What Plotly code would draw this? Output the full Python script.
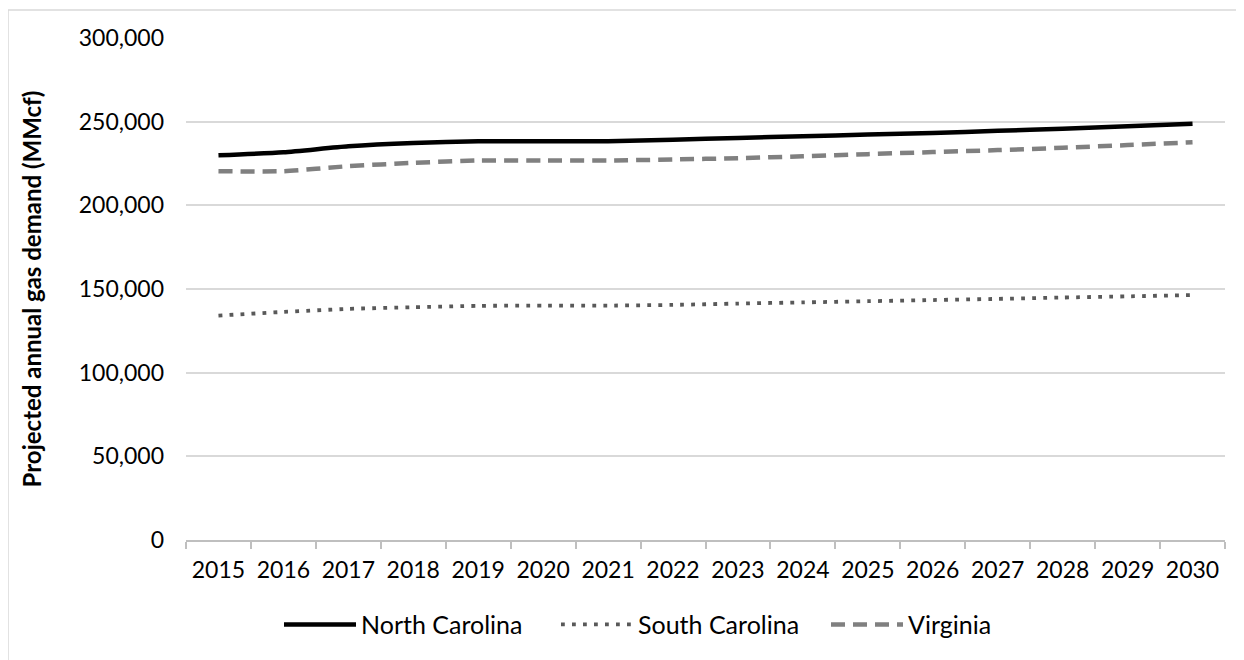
import plotly.graph_objects as go

years = [str(y) for y in range(2015, 2031)]
north_carolina = [229900, 231700, 235300, 237300, 238300, 238300, 238300, 239200,
                  240300, 241300, 242300, 243300, 244500, 245800, 247200, 248800]
south_carolina = [134100, 136300, 138100, 139100, 139900, 140100, 140100, 140500,
                  141300, 142000, 142700, 143400, 144100, 144900, 145600, 146400]
virginia = [220400, 220400, 223400, 225400, 226800, 226800, 226800, 227400,
            228200, 229300, 230600, 231800, 233000, 234400, 236000, 237700]
y_ticks = [0, 50000, 100000, 150000, 200000, 250000, 300000]

FONT = "Lato, 'Open Sans', sans-serif"

# page body has an 8px margin; work in figure coordinates (page - 8)
OFF = 8
W, H = 1244 - OFF, 660 - OFF
L, R, T, B = 186 - OFF, 1225 - OFF, 38 - OFF, 542 - OFF
pw, ph = R - L, B - T


def px(xp):
    return (xp - OFF - L) / pw


def py(yp):
    return (B - (yp - OFF)) / ph


fig = go.Figure()
fig.add_trace(go.Scatter(x=years, y=north_carolina, name="North Carolina", mode="lines",
                         legend="legend",
                         line=dict(color="#000000", width=4.5, shape="spline", smoothing=0.6)))
fig.add_trace(go.Scatter(x=years, y=south_carolina, name="South Carolina", mode="lines",
                         legend="legend2",
                         line=dict(color="#595959", width=3.8, dash="3.8px,7.2px", shape="spline", smoothing=0.6)))
fig.add_trace(go.Scatter(x=years, y=virginia, name="Virginia", mode="lines",
                         legend="legend3",
                         line=dict(color="#808080", width=4.5, dash="14px,8px", shape="spline", smoothing=0.6)))

leg_common = dict(orientation="h", xanchor="left", yanchor="middle", y=py(627),
                  font=dict(size=25), itemwidth=72, bgcolor="rgba(0,0,0,0)")

fig.update_layout(
    width=W, height=H,
    margin=dict(l=L, r=W - R, t=T, b=H - B, pad=0),
    paper_bgcolor="white", plot_bgcolor="white",
    font=dict(family=FONT, size=23, color="#000000"),
    showlegend=True,
    legend=dict(x=px(283 - 4), **leg_common),
    legend2=dict(x=px(560 - 4), **leg_common),
    legend3=dict(x=px(830 - 4), **leg_common),
    xaxis=dict(type="category", range=[-0.5, len(years) - 0.5], showgrid=False,
               showline=True, linecolor="#bfbfbf",
               linewidth=1.5, ticks="outside", tickson="boundaries", ticklen=7,
               tickcolor="#bfbfbf", tickwidth=1.5, tickfont=dict(size=23),
               ticklabelstandoff=9, fixedrange=True),
    yaxis=dict(range=[0, 300000], tickvals=y_ticks, tickformat=",", showgrid=True,
               gridcolor="#d9d9d9", gridwidth=1.5, zeroline=False, showline=False,
               ticks="", tickfont=dict(size=23), ticklabelstandoff=21,
               title=dict(text="<b>Projected annual gas demand (MMcf)</b>",
                          font=dict(size=24), standoff=30),
               fixedrange=True),
    shapes=[dict(type="rect", xref="paper", yref="paper",
                 x0=px(8), x1=px(1270), y0=py(690), y1=py(10),
                 line=dict(color="#d9d9d9", width=1.5), fillcolor="rgba(0,0,0,0)",
                 layer="below")],
)

fig.write_html("out.html")
